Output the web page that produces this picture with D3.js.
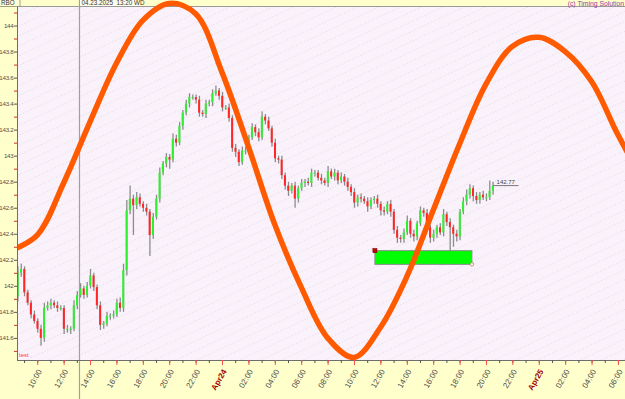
<!DOCTYPE html>
<html>
<head>
<meta charset="utf-8">
<script src="https://cdn.jsdelivr.net/npm/d3@7.9.0/dist/d3.min.js"></script>
<style>
  html, body { margin: 0; padding: 0; background: #ffffcc; overflow: hidden; }
  svg { display: block; font-family: "Liberation Sans", Arial, sans-serif; }
</style>
</head>
<body>
<svg id="chart" width="625" height="399"></svg>
<script>
// ---- data ----
// 15-minute bars, Apr 23 08:30 -> Apr 24 20:30
const barStart = new Date(2025, 3, 23, 8, 30);
const barMinutes = 15;
const firstOpen = 141.92;
const closes = [
  142.10, 142.13, 141.95, 141.87, 141.78, 141.73, 141.67, 141.60, 141.83, 141.85,
  141.87, 141.85, 141.83, 141.83, 141.67, 141.67, 141.67, 141.85, 141.93, 141.98,
  141.93, 142.00, 142.08, 141.99, 141.85, 141.70, 141.71, 141.77, 141.77, 141.78,
  141.87, 141.83, 142.12, 142.58, 142.67, 142.62, 142.68, 142.63, 142.60, 142.57,
  142.39, 142.53, 142.67, 142.87, 142.94, 142.99, 142.97, 143.13, 143.10, 143.23,
  143.33, 143.40, 143.45, 143.45, 143.43, 143.33, 143.32, 143.40, 143.41, 143.48,
  143.50, 143.46, 143.37, 143.37, 143.29, 143.06, 143.03, 142.95, 143.04, 143.04,
  143.14, 143.22, 143.18, 143.14, 143.30, 143.27, 143.21, 143.10, 142.98, 142.97,
  142.85, 142.77, 142.73, 142.77, 142.67, 142.75, 142.79, 142.80, 142.79, 142.87,
  142.87, 142.83, 142.81, 142.79, 142.88, 142.84, 142.87, 142.81, 142.84, 142.80,
  142.76, 142.72, 142.64, 142.68, 142.67, 142.65, 142.61, 142.66, 142.67, 142.63,
  142.58, 142.57, 142.63, 142.57, 142.43, 142.37, 142.36, 142.41, 142.50, 142.40,
  142.38, 142.48, 142.58, 142.56, 142.45, 142.37, 142.40, 142.45, 142.41, 142.55,
  142.49, 142.45, 142.40, 142.38, 142.57, 142.65, 142.70, 142.75, 142.69, 142.66,
  142.70, 142.68, 142.68, 142.73, 142.77
];
// wick lengths above / below the body, in cents
const upWick = [
  5,4,2,2,2,3,2,3,4,3,  3,2,3,2,2,3,2,4,3,4,  2,3,5,2,2,3,2,3,2,3,
  3,4,5,8,10,3,4,3,2,3, 2,3,3,4,2,3,2,4,3,3,  2,3,3,2,2,3,2,3,2,3,
  4,2,3,2,3,2,3,2,3,3,  2,3,2,3,4,2,3,2,3,2,  3,2,3,2,3,2,3,2,3,3,
  2,2,3,2,4,2,3,2,3,2,  3,2,3,2,3,2,3,2,2,3,  2,3,2,3,2,3,2,3,4,2,
  3,2,3,2,3,2,3,2,3,4,  2,3,2,3,2,3,4,3,2,3,  2,3,3,8,3
];
const downWick = [
  4,3,3,2,3,2,3,6,3,2,  3,2,3,2,4,3,4,2,3,2,  3,2,2,3,3,4,3,2,3,2,
  2,3,3,4,3,23,3,2,3,3, 16,3,2,3,2,3,7,2,3,2, 3,2,3,2,3,3,2,3,2,3,
  2,3,3,2,3,3,4,3,2,3,  3,2,3,3,2,3,2,3,3,3,  3,3,4,2,7,3,2,3,2,3,
  3,2,3,2,3,2,3,3,2,3,  3,3,4,3,3,2,4,2,3,3,  4,3,2,4,3,4,3,3,2,3,
  4,3,2,3,3,4,3,3,2,3,  3,18,10,4,3,2,3,3,4,3,  3,2,3,2,3
];

// projection cycle (orange), every 2 hours from Apr 23 08:00
const cycleStart = new Date(2025, 3, 23, 8, 0);
const cycleStepHours = 2;
const cycleValues = [
  142.27, 142.39, 142.79, 143.26, 143.71, 144.04, 144.17, 144.09, 143.64, 143.07,
  142.47, 141.99, 141.60, 141.45, 141.68, 142.07, 142.58, 143.09, 143.55, 143.84,
  143.91, 143.80, 143.57, 143.16, 142.79
];

const yTicks = [141.6, 141.8, 142, 142.2, 142.4, 142.6, 142.8, 143, 143.2, 143.4, 143.6, 143.8, 144];
const yMinorTicks = [141.5, 141.7, 141.9, 142.1, 142.3, 142.5, 142.7, 142.9, 143.1, 143.3, 143.5, 143.7, 143.9, 144.1];
const yDomain = [141.43, 144.15];
const xDomain = [new Date(2025, 3, 23, 8, 28), new Date(2025, 3, 25, 6, 32)];

const cursorTime = new Date(2025, 3, 23, 13, 20);
const cursorLabel = '04.23.2025  13:20 WD';
const zoneStart = new Date(2025, 3, 24, 11, 35);
const zoneEnd = new Date(2025, 3, 24, 18, 56);
const zoneTop = 142.27;
const zoneBottom = 142.165;
const lastPrice = 142.77;
const symbolLabel = 'RBO';
const creditLabel = '(c) Timing Solution';
const seriesLabel = 'test';

// ---- layout ----
const width = 625, height = 399;
const plot = { left: 17, top: 6, right: 625, bottom: 360 };

const svg = d3.select('#chart');

const x = d3.scaleTime().domain(xDomain).range([plot.left, plot.right]);
const y = d3.scaleLinear().domain(yDomain).range([plot.bottom, plot.top]);

// bars: open is the previous close
const bars = closes.map((c, i) => {
  const o = i === 0 ? firstOpen : closes[i - 1];
  return {
    t: d3.timeMinute.offset(barStart, i * barMinutes),
    o, c,
    h: Math.max(o, c) + upWick[i] / 100,
    l: Math.min(o, c) - downWick[i] / 100
  };
});
const cycle = cycleValues.map((v, i) => ({ t: d3.timeHour.offset(cycleStart, i * cycleStepHours), v }));

// background
svg.append('rect').attr('width', width).attr('height', height).attr('fill', '#ffffcc');

const defs = svg.append('defs');
const pat = defs.append('pattern')
  .attr('id', 'dots').attr('patternUnits', 'userSpaceOnUse')
  .attr('width', 9).attr('height', 9)
  .attr('patternTransform', 'rotate(-25)');
pat.append('rect').attr('width', 9).attr('height', 9).attr('fill', '#faf2fa');
[0, 3, 6].forEach(px => pat.append('rect').attr('x', px).attr('y', 4).attr('width', 1).attr('height', 1).attr('fill', '#e6d6e6'));

defs.append('clipPath').attr('id', 'clip')
  .append('rect').attr('x', plot.left).attr('y', 0)
  .attr('width', plot.right - plot.left).attr('height', plot.bottom);

svg.append('rect')
  .attr('x', plot.left).attr('y', plot.top)
  .attr('width', plot.right - plot.left).attr('height', plot.bottom - plot.top)
  .attr('fill', 'url(#dots)');

// header band
svg.append('rect').attr('x', 0).attr('y', 0).attr('width', width).attr('height', plot.top).attr('fill', '#ffffcc');
svg.append('line')
  .attr('x1', plot.left).attr('x2', plot.right)
  .attr('y1', plot.top + 0.5).attr('y2', plot.top + 0.5)
  .attr('stroke', '#9a9a9a');

// cursor line
const cx = Math.round(x(cursorTime)) - 1.5;
svg.append('line')
  .attr('x1', cx).attr('x2', cx).attr('y1', 0).attr('y2', height)
  .attr('stroke', '#a0a0a0').attr('stroke-width', 1.2);

const g = svg.append('g').attr('clip-path', 'url(#clip)');

// candles
const candles = g.append('g').attr('class', 'candles');
candles.selectAll('line')
  .data(bars)
  .join('line')
  .attr('x1', d => x(d.t) + 0.5).attr('x2', d => x(d.t) + 0.5)
  .attr('y1', d => y(d.h)).attr('y2', d => y(d.l))
  .attr('stroke', '#8c8c8c').attr('stroke-width', 1.3);
candles.selectAll('rect')
  .data(bars)
  .join('rect')
  .attr('x', d => x(d.t) - 0.8)
  .attr('width', 2)
  .attr('y', d => y(Math.max(d.o, d.c)))
  .attr('height', d => Math.max(1, Math.abs(y(d.o) - y(d.c))))
  .attr('fill', d => d.c >= d.o ? '#2ef02e' : '#ff2626');

// target zone
g.append('rect')
  .attr('x', x(zoneStart)).attr('y', y(zoneTop))
  .attr('width', x(zoneEnd) - x(zoneStart))
  .attr('height', y(zoneBottom) - y(zoneTop))
  .attr('fill', '#00ff00').attr('stroke', '#8a8a8a').attr('stroke-width', 1);
g.append('rect')
  .attr('x', x(zoneStart) - 2).attr('y', y(zoneTop) - 2)
  .attr('width', 4).attr('height', 4)
  .attr('fill', '#cc0000').attr('stroke', '#660000').attr('stroke-width', 0.6);
g.append('circle')
  .attr('cx', x(zoneEnd)).attr('cy', y(zoneBottom)).attr('r', 1.8)
  .attr('fill', '#fff2d8').attr('stroke', '#a08060').attr('stroke-width', 0.7);

// last price marker
const lastBar = bars[bars.length - 1];
svg.append('line')
  .attr('x1', x(lastBar.t) + 1).attr('x2', x(lastBar.t) + 26)
  .attr('y1', y(lastPrice)).attr('y2', y(lastPrice))
  .attr('stroke', '#555').attr('stroke-width', 0.8);
svg.append('text')
  .attr('x', x(lastBar.t) + 4).attr('y', y(lastPrice) - 2)
  .attr('font-size', 6).attr('fill', '#444')
  .text(lastPrice.toFixed(2));

// projection cycle
svg.append('path')
  .datum(cycle)
  .attr('clip-path', 'url(#clip)')
  .attr('fill', 'none')
  .attr('stroke', '#ff5a00')
  .attr('stroke-width', 5.5)
  .attr('stroke-linecap', 'round')
  .attr('d', d3.line().x(d => x(d.t)).y(d => y(d.v)).curve(d3.curveCatmullRom.alpha(0.5)));

// axes frame
svg.append('line')
  .attr('x1', plot.left + 0.5).attr('x2', plot.left + 0.5)
  .attr('y1', 0).attr('y2', plot.bottom)
  .attr('stroke', '#6e6e6e');
svg.append('line')
  .attr('x1', plot.left).attr('x2', plot.right)
  .attr('y1', plot.bottom + 0.5).attr('y2', plot.bottom + 0.5)
  .attr('stroke', '#6e6e6e');

// y axis
const yAxis = svg.append('g')
  .attr('transform', `translate(${plot.left},0)`)
  .call(d3.axisLeft(y).tickValues(yTicks).tickSize(3).tickPadding(0.5).tickFormat(d3.format('~g')));
yAxis.select('.domain').remove();
yAxis.selectAll('line').attr('stroke', '#555');
yAxis.selectAll('text')
  .attr('font-size', 6.2)
  .attr('letter-spacing', -0.25)
  .attr('fill', '#505050');

const yMinor = svg.append('g')
  .attr('transform', `translate(${plot.left},0)`)
  .call(d3.axisLeft(y).tickValues(yMinorTicks).tickSize(3).tickFormat(''));
yMinor.select('.domain').remove();
yMinor.selectAll('line').attr('stroke', '#d03030');

// x axis
const xMinor = svg.append('g')
  .attr('transform', `translate(0,${plot.bottom})`)
  .call(d3.axisBottom(x).ticks(d3.timeHour.every(1)).tickSize(3).tickFormat(''));
xMinor.select('.domain').remove();
xMinor.selectAll('line').attr('stroke', '#555');

const fmtHour = d3.timeFormat('%H:%M');
const fmtDay = d3.timeFormat('%b%d');
const isMidnight = d => d.getHours() === 0;

const xAxis = svg.append('g')
  .attr('transform', `translate(0,${plot.bottom})`)
  .call(d3.axisBottom(x).ticks(d3.timeHour.every(2)).tickSize(5)
    .tickFormat(d => isMidnight(d) ? fmtDay(d) : fmtHour(d)));
xAxis.select('.domain').remove();
xAxis.selectAll('line').attr('stroke', '#ff5050');
xAxis.selectAll('text')
  .attr('x', 0).attr('y', 0).attr('dy', '0.35em')
  .attr('transform', 'translate(2,10) rotate(-60)')
  .style('text-anchor', 'end')
  .attr('font-size', 8)
  .attr('font-weight', d => isMidnight(d) ? 'bold' : null)
  .attr('fill', d => isMidnight(d) ? '#a00000' : '#505050');

// header texts
svg.append('rect')
  .attr('x', -1).attr('y', -1).attr('width', 21).attr('height', plot.top + 1.5)
  .attr('fill', '#ffffd8').attr('stroke', '#8a8a70').attr('stroke-width', 0.8);
svg.append('text')
  .attr('x', 1).attr('y', 5.2).attr('font-size', 6.3).attr('fill', '#333')
  .text(symbolLabel);

svg.append('rect')
  .attr('x', cx + 0.6).attr('y', 0).attr('width', 58).attr('height', plot.top)
  .attr('fill', '#ffffee');
svg.append('text')
  .attr('x', cx + 2).attr('y', 5.2).attr('font-size', 6.3).attr('fill', '#333')
  .attr('xml:space', 'preserve')
  .text(cursorLabel);

svg.append('text')
  .attr('x', 624).attr('y', 5.5).attr('font-size', 6.8).attr('fill', '#9a3aa8')
  .attr('text-anchor', 'end')
  .text(creditLabel);

// series name
svg.append('text')
  .attr('x', plot.left + 2).attr('y', plot.bottom - 3)
  .attr('font-size', 6).attr('fill', '#ff3a3a')
  .text(seriesLabel);
</script>
</body>
</html>
